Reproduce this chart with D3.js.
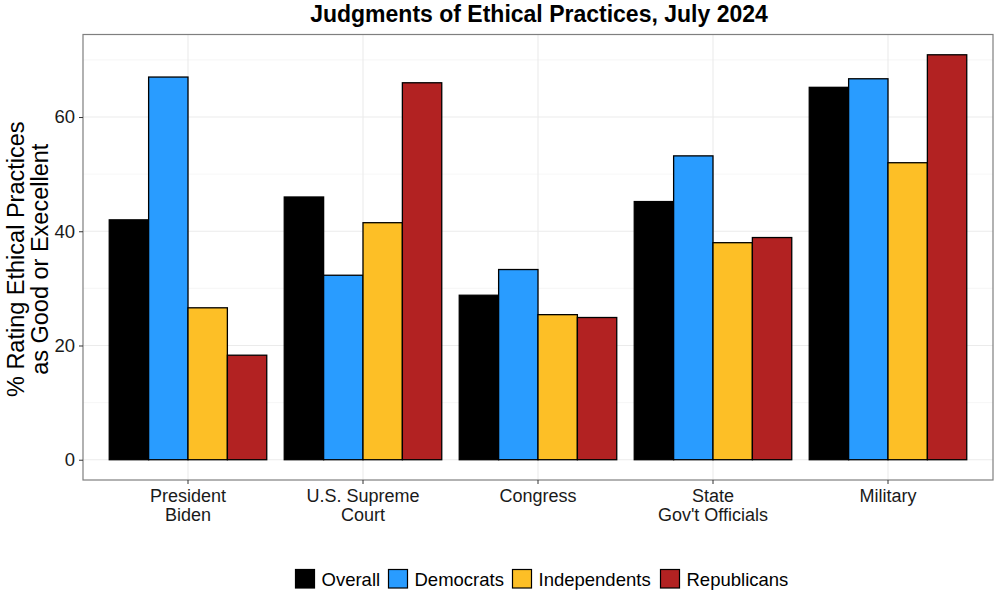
<!DOCTYPE html>
<html><head><meta charset="utf-8">
<script src="https://cdn.jsdelivr.net/npm/d3@7"></script>
<style>body{margin:0;background:#fff}svg{display:block;font-family:"Liberation Sans",Arial,sans-serif}</style>
</head><body>
<script>
const categories = [["President","Biden"],["U.S. Supreme","Court"],["Congress"],["State","Gov't Officials"],["Military"]];
const seriesNames = ["Overall","Democrats","Independents","Republicans"];
const seriesColors = ["#000000","#299cff","#fdbf26","#b22222"];
const overall      = [42, 46, 28.8, 45.2, 65.2];
const democrats    = [67, 32.3, 33.3, 53.2, 66.7];
const independents = [26.6, 41.5, 25.4, 38.0, 52.0];
const republicans  = [18.3, 66.0, 24.9, 38.9, 70.9];
const yTicks = [0, 20, 40, 60];
const yMinor = [10, 30, 50, 70];

const series = [overall, democrats, independents, republicans];
const W = 1000, H = 602;
const P = {l:83, r:993, t:34.5, b:480};

const svg = d3.select("body").append("svg").attr("width", W).attr("height", H);

const step = (P.r - P.l) / (categories.length + 0.2);
const xc = d3.scaleLinear().domain([0.4, categories.length + 0.6]).range([P.l, P.r]);
const y = d3.scaleLinear().domain([-3.55, 74.45]).range([P.b, P.t]);
const groupW = 0.9 * step;
const xs = d3.scaleBand().domain(d3.range(series.length)).range([-groupW/2, groupW/2]);

// grid
const g = svg.append("g");
g.selectAll(".minor").data(yMinor).join("line")
  .attr("x1", P.l).attr("x2", P.r).attr("y1", d => y(d)).attr("y2", d => y(d))
  .attr("stroke", "#f0f0f0").attr("stroke-width", 0.6);
g.selectAll(".major").data(yTicks).join("line")
  .attr("x1", P.l).attr("x2", P.r).attr("y1", d => y(d)).attr("y2", d => y(d))
  .attr("stroke", "#ebebeb").attr("stroke-width", 1.1);
g.selectAll(".vmajor").data(categories).join("line")
  .attr("x1", (d,i) => xc(i+1)).attr("x2", (d,i) => xc(i+1)).attr("y1", P.t).attr("y2", P.b)
  .attr("stroke", "#ebebeb").attr("stroke-width", 1.1);

// bars
series.forEach((vals, s) => {
  svg.append("g").selectAll("rect").data(vals).join("rect")
    .attr("x", (d,i) => xc(i+1) + xs(s))
    .attr("width", xs.bandwidth())
    .attr("y", d => y(d))
    .attr("height", d => y(0) - y(d))
    .attr("fill", seriesColors[s])
    .attr("stroke", "#000").attr("stroke-width", 1.3);
});

// panel border
svg.append("rect").attr("x", P.l).attr("y", P.t).attr("width", P.r - P.l).attr("height", P.b - P.t)
  .attr("fill", "none").attr("stroke", "#7f7f7f").attr("stroke-width", 1.2);

// y axis
const yAxis = d3.axisLeft(y).tickValues(yTicks).tickSize(4).tickPadding(4);
const ya = svg.append("g").attr("transform", `translate(${P.l},0)`).call(yAxis);
ya.select(".domain").remove();
ya.selectAll("line").attr("stroke", "#333");
ya.selectAll("text").attr("font-size", 18.5).attr("fill", "#1a1a1a").attr("font-family", "Liberation Sans, Arial, sans-serif");

// x axis
const xa = svg.append("g").attr("transform", `translate(0,${P.b})`);
categories.forEach((lines, i) => {
  const cx = xc(i+1);
  xa.append("line").attr("x1", cx).attr("x2", cx).attr("y1", 0).attr("y2", 4).attr("stroke", "#333");
  const t = xa.append("text").attr("text-anchor", "middle").attr("font-size", 18).attr("fill", "#1a1a1a");
  lines.forEach((ln, k) => t.append("tspan").attr("x", cx).attr("y", 21.8 + k * 19.5).text(ln));
});

// title
svg.append("text").attr("x", (P.l + P.r)/2 + 1).attr("y", 22).attr("text-anchor", "middle")
  .attr("font-size", 23).attr("font-weight", "bold").text("Judgments of Ethical Practices, July 2024");

// y title
const yt = svg.append("text").attr("transform", `translate(0,${(P.t+P.b)/2 + 2}) rotate(-90)`)
  .attr("text-anchor", "middle").attr("font-size", 23.5);
yt.append("tspan").attr("x", 0).attr("y", 24).text("% Rating Ethical Practices");
yt.append("tspan").attr("x", 0).attr("y", 48).text("as Good or Execellent");

// legend
const legendX = [295.5, 388.5, 512.5, 660.5];
const lg = svg.append("g");
seriesNames.forEach((n, i) => {
  lg.append("rect").attr("x", legendX[i]).attr("y", 569.5).attr("width", 19).attr("height", 18.5)
    .attr("fill", seriesColors[i]).attr("stroke", "#000").attr("stroke-width", 1.2);
  lg.append("text").attr("x", legendX[i] + 26).attr("y", 586).attr("font-size", 18.5).text(n);
});
</script>
</body></html>
